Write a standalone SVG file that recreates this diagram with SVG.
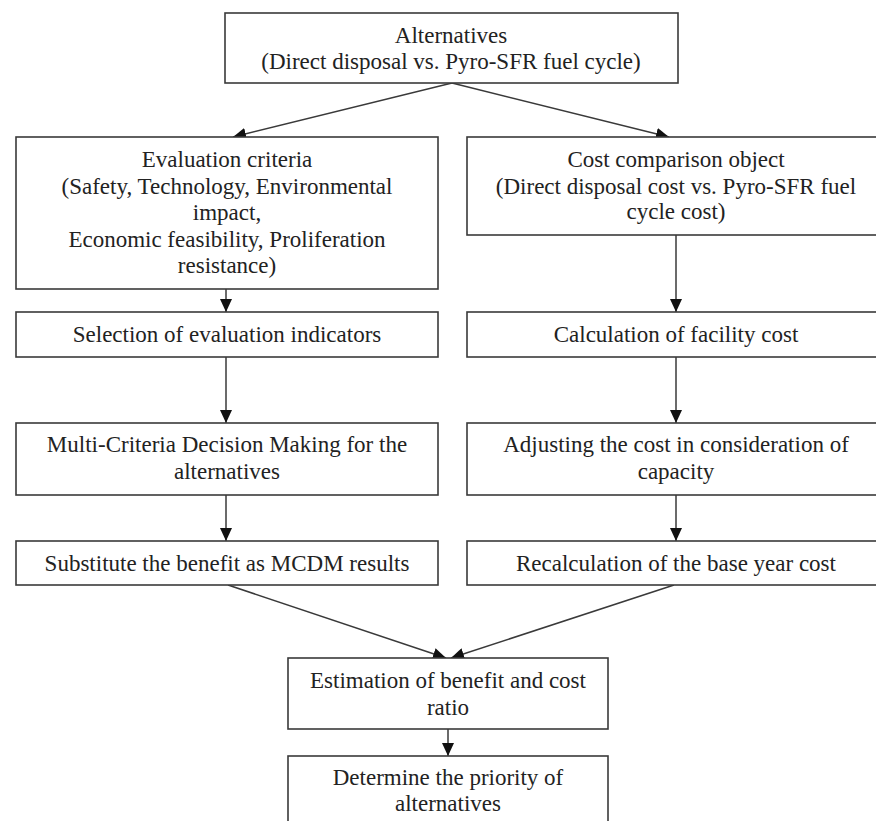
<svg xmlns="http://www.w3.org/2000/svg" width="876" height="821" viewBox="0 0 876 821">
<style>
.box{fill:#fff;stroke:#3a3a3a;stroke-width:1.6}
.t{font-family:"Liberation Serif","Times New Roman",serif;font-size:23px;fill:#222;text-anchor:middle}
.c{stroke:#3a3a3a;stroke-width:1.5;fill:none;marker-end:url(#ah)}
</style>
<defs>
<marker id="ah" viewBox="0 0 13 12" refX="13" refY="6" markerWidth="13" markerHeight="12" markerUnits="userSpaceOnUse" orient="auto">
<path d="M0,0 L13,6 L0,12 Z" fill="#111"/>
</marker>
</defs>
<rect width="876" height="821" fill="#fff"/>
<g id="connectors">
<line class="c" x1="452" y1="83" x2="233" y2="137"/>
<line class="c" x1="452" y1="83" x2="669" y2="137"/>
<line class="c" x1="226" y1="289" x2="226" y2="312"/>
<line class="c" x1="676" y1="235" x2="676" y2="312"/>
<line class="c" x1="226" y1="357" x2="226" y2="423"/>
<line class="c" x1="676" y1="357" x2="676" y2="423"/>
<line class="c" x1="226" y1="495" x2="226" y2="541"/>
<line class="c" x1="676" y1="495" x2="676" y2="541"/>
<line class="c" x1="228" y1="585" x2="446" y2="658"/>
<line class="c" x1="674" y1="585" x2="451" y2="658"/>
<line class="c" x1="448" y1="729" x2="448" y2="756"/>
</g>
<g id="alternatives">
<rect class="box" x="225" y="13" width="453" height="70"/>
<text class="t" x="451" y="43">Alternatives</text>
<text class="t" x="451" y="69">(Direct disposal vs. Pyro-SFR fuel cycle)</text>
</g>
<g id="evaluation-criteria">
<rect class="box" x="16" y="137" width="422" height="152"/>
<text class="t" x="227" y="167">Evaluation criteria</text>
<text class="t" x="227" y="194">(Safety, Technology, Environmental</text>
<text class="t" x="227" y="220">impact,</text>
<text class="t" x="227" y="247">Economic feasibility, Proliferation</text>
<text class="t" x="227" y="273">resistance)</text>
</g>
<g id="cost-comparison">
<rect class="box" x="467" y="137" width="420" height="98"/>
<text class="t" x="676" y="167">Cost comparison object</text>
<text class="t" x="676" y="194">(Direct disposal cost vs. Pyro-SFR fuel</text>
<text class="t" x="676" y="219">cycle cost)</text>
</g>
<g id="selection-indicators">
<rect class="box" x="16" y="312" width="422" height="45"/>
<text class="t" x="227" y="342">Selection of evaluation indicators</text>
</g>
<g id="facility-cost">
<rect class="box" x="467" y="312" width="420" height="45"/>
<text class="t" x="676" y="342">Calculation of facility cost</text>
</g>
<g id="mcdm">
<rect class="box" x="16" y="423" width="422" height="72"/>
<text class="t" x="227" y="452">Multi-Criteria Decision Making for the</text>
<text class="t" x="227" y="479">alternatives</text>
</g>
<g id="adjusting-cost">
<rect class="box" x="467" y="423" width="420" height="72"/>
<text class="t" x="676" y="452">Adjusting the cost in consideration of</text>
<text class="t" x="676" y="479">capacity</text>
</g>
<g id="substitute-benefit">
<rect class="box" x="16" y="541" width="422" height="44"/>
<text class="t" x="227" y="571">Substitute the benefit as MCDM results</text>
</g>
<g id="recalculation">
<rect class="box" x="467" y="541" width="420" height="44"/>
<text class="t" x="676" y="571">Recalculation of the base year cost</text>
</g>
<g id="estimation">
<rect class="box" x="288" y="658" width="320" height="71"/>
<text class="t" x="448" y="688">Estimation of benefit and cost</text>
<text class="t" x="448" y="715">ratio</text>
</g>
<g id="determine-priority">
<rect class="box" x="288" y="756" width="320" height="80"/>
<text class="t" x="448" y="785">Determine the priority of</text>
<text class="t" x="448" y="811">alternatives</text>
</g>
</svg>
